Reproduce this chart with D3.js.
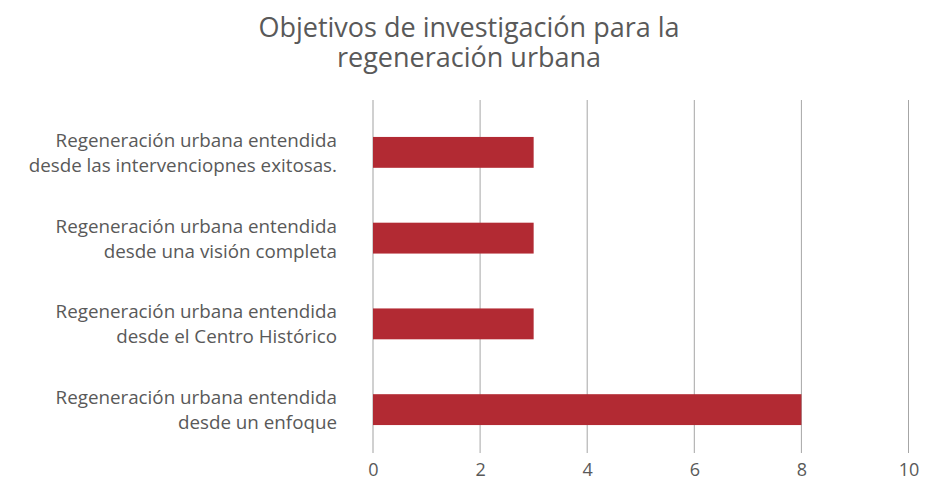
<!DOCTYPE html>
<html>
<head>
<meta charset="utf-8">
<script src="https://cdn.jsdelivr.net/npm/d3@7"></script>
<style>
  body { margin: 0; background: #fff; }
  text { font-family: "Open Sans", sans-serif; fill: #595959; }
</style>
</head>
<body>
<div id="chart"></div>
<script>
// data
let categories = [
  ["Regeneración urbana entendida", "desde las intervenciopnes exitosas."],
  ["Regeneración urbana entendida", "desde una visión completa"],
  ["Regeneración urbana entendida", "desde el Centro Histórico"],
  ["Regeneración urbana entendida", "desde un enfoque"]
]
let values = [3, 3, 3, 8]
let ticks = [0, 2, 4, 6, 8, 10]
let title = ["Objetivos de investigación para la", "regeneración urbana"]

let width = 941,
    height = 483

let svg = d3.select('#chart')
  .append('svg')
    .attr('width', width)
    .attr('height', height)

let x = d3.scaleLinear()
  .domain([0, 10])
  .range([373, 908.5])

let y = d3.scaleBand()
  .domain(d3.range(categories.length))
  .range([109.5, 452.5])
  .paddingInner(0.64)
  .paddingOuter(0.32)

let gridTop = 100, gridBottom = 453

// title
svg.append('text')
  .attr('x', 469)
  .attr('y', 37)
  .attr('text-anchor', 'middle')
  .style('font-size', '27px')
  .selectAll('tspan')
  .data(title)
  .enter()
  .append('tspan')
    .attr('x', 469)
    .attr('dy', (d, i) => i == 0 ? 0 : 30)
    .text(d => d)

// gridlines
svg.selectAll('.grid')
  .data(ticks)
  .enter()
  .append('line')
    .attr('x1', d => x(d))
    .attr('x2', d => x(d))
    .attr('y1', gridTop)
    .attr('y2', gridBottom)
    .attr('stroke', d => d == 0 ? '#d0d0d0' : '#a6a6a6')
    .attr('stroke-width', d => d == 0 ? 2 : 1)

// bars
svg.selectAll('.bar')
  .data(values)
  .enter()
  .append('rect')
    .attr('x', x(0))
    .attr('y', (d, i) => y(i))
    .attr('width', d => x(d) - x(0))
    .attr('height', y.bandwidth())
    .attr('fill', '#b22a33')

// x axis labels
let xAxis = d3.axisBottom(x)
  .tickValues(ticks)
  .tickSize(0)
  .tickPadding(0)

let gx = svg.append('g')
  .attr('transform', `translate(0,${gridBottom})`)
  .call(xAxis)
gx.select('.domain').remove()
gx.selectAll('text')
  .attr('dy', '1.25em')
  .style('font-size', '18px')
  .style('font-family', '"Open Sans", sans-serif')
  .attr('fill', '#595959')

// category labels
let labels = svg.selectAll('.cat')
  .data(categories)
  .enter()
  .append('text')
    .attr('text-anchor', 'end')
    .style('font-size', '18.8px')
    .attr('transform', (d, i) => `translate(337,${y(i) + y.bandwidth() / 2})`)

labels.selectAll('tspan')
  .data(d => d)
  .enter()
  .append('tspan')
    .attr('x', 0)
    .attr('y', (d, i) => i == 0 ? -5.5 : 19.5)
    .text(d => d)
</script>
</body>
</html>
